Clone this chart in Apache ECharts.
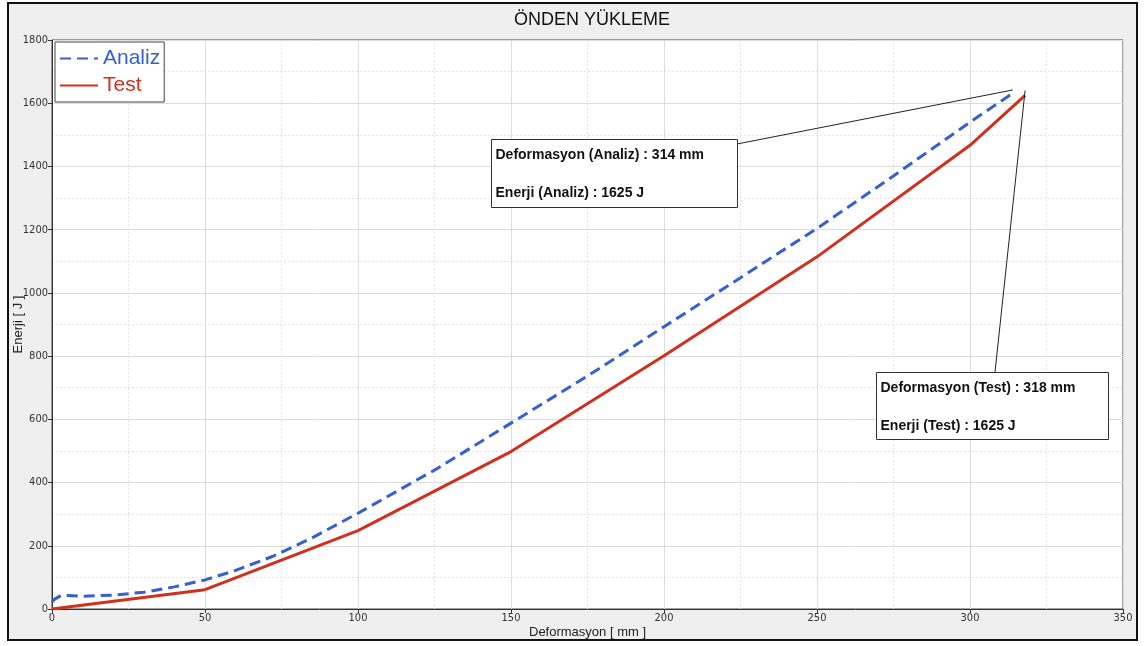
<!DOCTYPE html>
<html>
<head>
<meta charset="utf-8">
<script src="https://cdn.jsdelivr.net/npm/echarts@6/dist/echarts.min.js"></script>
<style>
  html, body { margin: 0; padding: 0; background: #fff; }
  #frame {
    position: absolute; left: 7px; top: 2px; width: 1127px; height: 635px;
    background: #efefef; border: 2px solid #111;
  }
  #chart { position: absolute; left: 0; top: 0; width: 1145px; height: 646px; }
</style>
</head>
<body>
<div id="frame"></div>
<div id="chart"></div>
<script>
// Analiz (dashed blue) - deformation [mm] / energy [J]
const analizX = [0, 1, 3, 5, 10, 20, 30, 40, 50, 60, 72, 85, 100, 126, 150, 175, 200, 225, 250, 275, 300, 314];
const analizY = [22, 32, 43, 43, 40, 44, 53, 70, 92, 122, 166, 225, 303, 445, 588, 737, 893, 1048, 1204, 1370, 1540, 1632];

// Test (solid red)
const testX = [0, 50, 100, 150, 200, 250, 300, 318];
const testY = [0, 61, 248, 498, 801, 1114, 1467, 1625];

const xTicks = { min: 0, max: 350, step: 50 };
const yTicks = { min: 0, max: 1800, step: 200 };

const annotAnaliz = ['Deformasyon (Analiz) : 314 mm', 'Enerji (Analiz) : 1625 J'];
const annotTest = ['Deformasyon (Test) : 318 mm', 'Enerji (Test) : 1625 J'];

const BLUE = '#3560d2';
const RED = '#d0301e';
const tickFont = "'Liberation Sans Narrow', 'DejaVu Sans Condensed', 'Liberation Sans', sans-serif";
const mainFont = "'Liberation Sans', Arial, sans-serif";

function zip(xs, ys) {
  return xs.map((x, i) => [x, ys[i]]);
}

const chart = echarts.init(document.getElementById('chart'));

function valueAxis(t, name, gap) {
  return {
    type: 'value',
    min: t.min,
    max: t.max,
    interval: t.step,
    name: name,
    nameLocation: 'middle',
    nameGap: gap,
    nameMoveOverlap: false,
    nameTextStyle: { color: '#222', fontSize: 13, fontFamily: mainFont },
    axisLine: { show: true, lineStyle: { color: '#333', width: 1 } },
    axisTick: { show: true, length: 4, lineStyle: { color: '#333' } },
    axisLabel: {
      color: '#333', fontSize: 11, fontFamily: tickFont, margin: 4,
      formatter: (v) => String(v)
    },
    splitLine: { show: true, lineStyle: { color: '#dcdcdc', width: 1 } },
    minorTick: { show: false, splitNumber: 2 },
    minorSplitLine: { show: true, lineStyle: { color: '#e4e4e4', width: 1, type: [2, 2] } }
  };
}

function boxGraphic(left, top, w, h, lines) {
  const font = 'bold 14px ' + mainFont;
  return {
    type: 'group',
    left: left,
    top: top,
    z: 100,
    children: [
      {
        type: 'rect',
        z: 100,
        shape: { x: 0, y: 0, width: w, height: h },
        style: { fill: '#fff', stroke: '#333', lineWidth: 1 }
      },
      {
        type: 'text',
        z: 101,
        x: 4, y: 16,
        style: { text: lines[0], fill: '#111', font: font, textVerticalAlign: 'middle' }
      },
      {
        type: 'text',
        z: 101,
        x: 4, y: 54,
        style: { text: lines[1], fill: '#111', font: font, textVerticalAlign: 'middle' }
      }
    ]
  };
}

const lastA = analizX.length - 1;
const lastT = testX.length - 1;

const option = {
  backgroundColor: 'transparent',
  animation: false,
  title: {
    text: 'ÖNDEN YÜKLEME',
    left: 587,
    textAlign: 'center',
    top: 6,
    textStyle: { fontSize: 18, fontWeight: 'normal', color: '#111', fontFamily: mainFont }
  },
  legend: {
    left: 55,
    top: 42,
    orient: 'vertical',
    padding: [6, 4],
    itemGap: 6,
    itemWidth: 38,
    itemHeight: 14,
    backgroundColor: '#fff',
    borderColor: '#444',
    borderWidth: 1,
    borderRadius: 0,
    itemStyle: { opacity: 0 },
    textStyle: { fontSize: 21, fontFamily: mainFont },
    data: [
      { name: 'Analiz', textStyle: { color: BLUE } },
      { name: 'Test', textStyle: { color: RED } }
    ]
  },
  grid: {
    left: 52,
    right: 22,
    top: 40,
    bottom: 37,
    outerBoundsMode: 'none',
    containLabel: false,
    show: true,
    backgroundColor: '#fff',
    borderColor: '#444',
    borderWidth: 1
  },
  xAxis: valueAxis(xTicks, 'Deformasyon [ mm ]', 17),
  yAxis: valueAxis(yTicks, 'Enerji [ J ]', 27),
  graphic: [
    boxGraphic(491, 139, 246, 68, annotAnaliz),
    boxGraphic(876, 372, 232, 67, annotTest)
  ],
  series: [
    {
      name: 'Analiz',
      type: 'line',
      symbol: 'none',
      z: 3,
      lineStyle: { color: BLUE, width: 3, type: [11, 6] },
      itemStyle: { color: BLUE },
      data: zip(analizX, analizY),
      markLine: {
        silent: true,
        symbol: 'none',
        label: { show: false },
        lineStyle: { color: '#222', width: 1, type: 'solid' },
        data: [[{ coord: [analizX[lastA], analizY[lastA] + 10] }, { x: 737, y: 144 }]]
      }
    },
    {
      name: 'Test',
      type: 'line',
      symbol: 'none',
      z: 2,
      lineStyle: { color: RED, width: 3 },
      itemStyle: { color: RED },
      data: zip(testX, testY),
      markLine: {
        silent: true,
        symbol: 'none',
        label: { show: false },
        lineStyle: { color: '#222', width: 1, type: 'solid' },
        data: [[{ coord: [testX[lastT], testY[lastT] + 15] }, { x: 995, y: 372 }]]
      }
    }
  ]
};

chart.setOption(option);
</script>
</body>
</html>
